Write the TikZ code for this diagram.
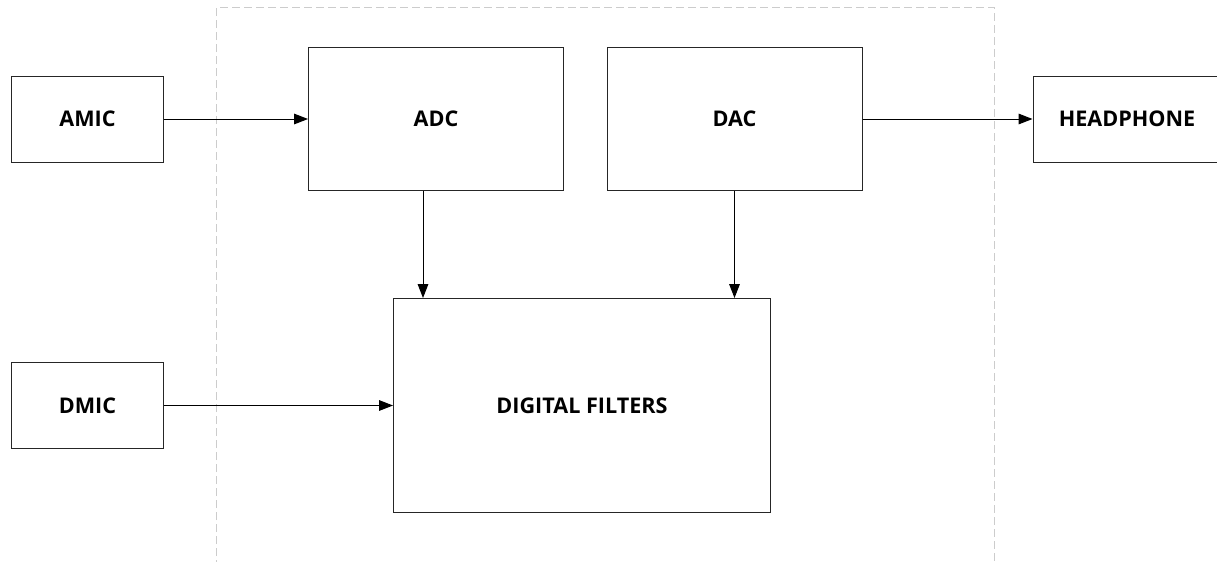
\documentclass[tikz,border=0pt]{standalone}
\usepackage{fontspec}
\setmainfont{Open Sans}
\usetikzlibrary{arrows.meta}
\begin{document}
\begin{tikzpicture}[x=0.75pt,y=-0.75pt,
  blk/.style={draw=black!85,line width=0.75pt,fill=white,inner sep=0pt,font=\fontsize{16.2}{19}\selectfont\bfseries},
  bw/.style={minimum width=#1*0.75pt},
  bh/.style={minimum height=#1*0.75pt},
  conn/.style={line width=0.75pt,-{Triangle[length=10.5pt,width=8pt]}},
  region/.style={draw=black!20,line width=0.75pt,dash pattern=on 6pt off 3pt}]
\useasboundingbox (0,0) rectangle (1217,561);
\draw[region] (216.5,580) -- (216.5,7.5) -- (994.5,7.5) -- (994.5,580);
\node[blk,bw=152,bh=86] (amic) at (87.5,119) {AMIC};
\node[blk,bw=255,bh=143] (adc) at (436,119) {ADC};
\node[blk,bw=255,bh=143] (dac) at (734.5,119) {DAC};
\node[blk,bw=188,bh=86] (hp) at (1127,119) {HEADPHONE};
\node[blk,bw=377,bh=214] (df) at (582,405.5) {DIGITAL FILTERS};
\node[blk,bw=152,bh=86] (dmic) at (87.5,405.5) {DMIC};
\coordinate (adcout) at ([xshift=-9.75pt]adc.south);
\draw[conn] (amic.east) -- (adc.west);
\draw[conn] (dac.east) -- (hp.west);
\draw[conn] (dmic.east) -- (df.west);
\draw[conn] (adcout) -- (adcout |- df.north);
\draw[conn] (dac.south) -- (dac.south |- df.north);
\end{tikzpicture}
\end{document}
